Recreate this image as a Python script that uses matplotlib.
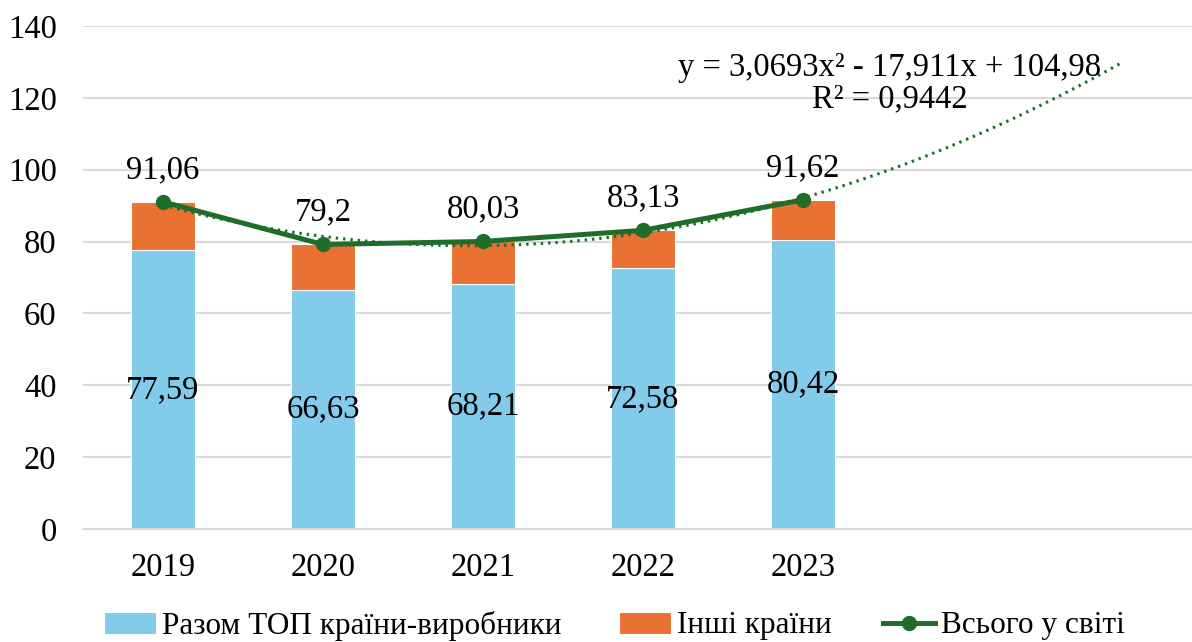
import numpy as np
import matplotlib.pyplot as plt

years = ['2019', '2020', '2021', '2022', '2023']
top_countries = [77.59, 66.63, 68.21, 72.58, 80.42]
world_total = [91.06, 79.2, 80.03, 83.13, 91.62]
other_countries = [t - p for t, p in zip(world_total, top_countries)]

total_labels = ['91,06', '79,2', '80,03', '83,13', '91,62']
top_labels = ['77,59', '66,63', '68,21', '72,58', '80,42']
legend_labels = ['Разом ТОП країни-виробники', 'Інші країни', 'Всього у світі']
trend_text = 'y = 3,0693x² - 17,911x + 104,98\nR² = 0,9442'

BLUE = '#83CBEB'
ORANGE = '#E97132'
GREEN = '#1E6E2A'
GRID = '#D9D9D9'

plt.rcParams['font.family'] = ['Liberation Serif', 'DejaVu Serif']
plt.rcParams['font.size'] = 23.5

fig = plt.figure(figsize=(11.92, 6.42), dpi=100)
ax = fig.add_axes([83 / 1192, 1 - 529 / 642, 1 - 83 / 1192, (529 - 26) / 642])

x = np.arange(1, len(years) + 1)
b1 = ax.bar(x, top_countries, width=0.4, color=BLUE, edgecolor='white',
            linewidth=0.8, zorder=2)
b2 = ax.bar(x, other_countries, width=0.4, bottom=top_countries, color=ORANGE,
            edgecolor='white', linewidth=0.8, zorder=2)
ln, = ax.plot(x, world_total, color=GREEN, lw=3.6, marker='o', markersize=10,
              zorder=4)

# polynomial trendline, forecast forward two periods
coef = np.polyfit(x, world_total, 2)
xt = np.linspace(1, len(years) + 2, 200)
ax.plot(xt, np.polyval(coef, xt), color=GREEN, lw=2.2, ls=(0, (0.8, 1.6)),
        zorder=3)

for xi, v, lab in zip(x, top_countries, top_labels):
    ax.text(xi, v / 2, lab, ha='center', va='center', zorder=5)
for xi, v, lab in zip(x, world_total, total_labels):
    ax.annotate(lab, (xi, v), xytext=(0, 23), textcoords='offset points',
                ha='center', va='center', zorder=5)

ax.text(5.54, 124, trend_text, ha='center', va='center', linespacing=1.0)

ax.set_xlim(0.5, 0.5 + (1192 - 83) / 160)
ax.set_ylim(0, 140)
ax.set_yticks(range(0, 141, 20))
ax.set_xticks(x)
ax.set_xticklabels(years)
ax.tick_params(axis='both', length=0)
ax.tick_params(axis='y', pad=19)
ax.tick_params(axis='x', pad=17)
ax.grid(axis='y', color=GRID, lw=1.5, zorder=0)
ax.set_axisbelow(True)
for s in ['top', 'right', 'left']:
    ax.spines[s].set_visible(False)
ax.spines['bottom'].set_color(GRID)
ax.spines['bottom'].set_linewidth(1.5)

# legend entries placed as in the original layout
handles = [b1, b2, ln]
for h, lab, xpx in zip(handles, legend_labels, [104, 619, 883]):
    fig.legend([h], [lab], loc='center left', fontsize=22.5,
               bbox_to_anchor=(xpx / 1192, 1 - 626 / 642), frameon=False,
               handlelength=1.66, handletextpad=0.19, borderaxespad=0,
               borderpad=0)

fig.savefig('out.png', dpi=100)
